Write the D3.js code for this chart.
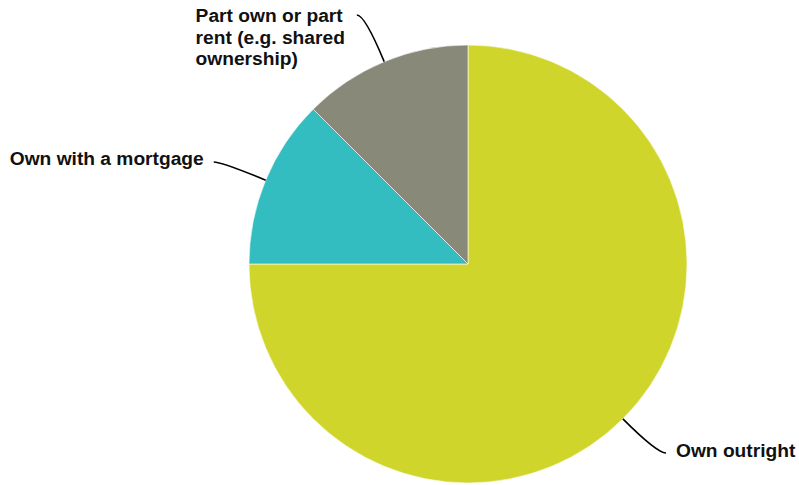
<!DOCTYPE html>
<html><head><meta charset="utf-8">
<script src="https://cdn.jsdelivr.net/npm/d3@7"></script>
<style>body{margin:0;background:#fff}svg{display:block}</style>
</head><body>
<svg id="c" width="799" height="485"></svg>
<script>
const categories = ["Own outright", "Own with a mortgage", "Part own or part rent (e.g. shared ownership)"];
const values = [75, 12.5, 12.5];
const labelLines = [["Own outright"], ["Own with a mortgage"], ["Part own or part", "rent (e.g. shared", "ownership)"]];
const colors = ["#CFD52A", "#34BDC0", "#89897A"];

const svg = d3.select("#c");
const cx = 468, cy = 264, r = 219;
const g = svg.append("g").attr("transform", `translate(${cx},${cy})`);
const pie = d3.pie().sort(null).value(d => d.v);
const arcs = pie(categories.map((c, i) => ({c, v: values[i], i})));
const arc = d3.arc().innerRadius(0).outerRadius(r);
g.selectAll("path.s").data(arcs).join("path").attr("class", "s")
  .attr("d", arc).attr("fill", d => colors[d.data.i])
  .attr("stroke", "#fff").attr("stroke-width", 0.6);

const layout = [
  {endY: 189, side: 1, dx: 9, baseY: 192.5},
  {endY: -102, side: -1, dx: -8, baseY: -99.5},
  {endY: -249, side: -1, dx: -8, baseY: -242, block: true}
];
arcs.forEach((a, i) => {
  const L = layout[i];
  const mid = (a.startAngle + a.endAngle) / 2;
  const ux = Math.sin(mid), uy = -Math.cos(mid);
  const p0 = [ux * r, uy * r];
  const t = (L.endY - p0[1]) / uy;
  const ctrl = [p0[0] + ux * t, L.endY];
  const end = [ctrl[0] + L.dx, L.endY];
  g.append("path")
    .attr("d", `M${p0[0]},${p0[1]}Q${ctrl[0]},${ctrl[1]} ${end[0]},${end[1]}`)
    .attr("fill", "none").attr("stroke", "#000").attr("stroke-width", 1.6);
  const txt = g.append("text")
    .attr("font-family", "Liberation Sans, Arial, sans-serif")
    .attr("font-weight", "bold").attr("font-size", 19.2).attr("fill", "#111");
  if (L.block) {
    const lines = labelLines[i];
    txt.attr("text-anchor", "start");
    lines.forEach((s, k) => txt.append("tspan").attr("x", 0).attr("y", L.baseY + k * 21.5).text(s));
    const w = txt.node().getBBox().width;
    txt.attr("transform", `translate(${end[0] - 12 - w},0)`);
  } else {
    txt.attr("text-anchor", L.side > 0 ? "start" : "end")
      .attr("x", end[0] + L.side * 10).attr("y", L.baseY).text(labelLines[i][0]);
  }
});
</script>
</body></html>
